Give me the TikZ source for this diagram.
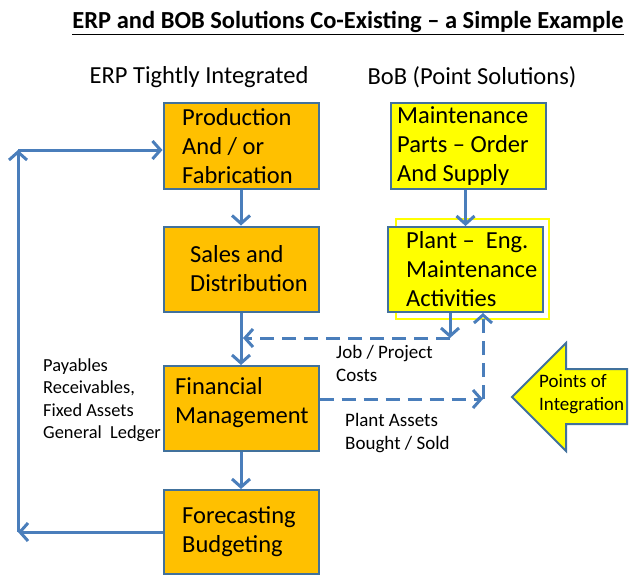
\documentclass[tikz,border=0pt]{standalone}
\usepackage{fontspec}
\setmainfont{Carlito}
\usetikzlibrary{arrows.meta}
\definecolor{lineblue}{HTML}{4A7EBB}
\definecolor{boxedge}{HTML}{41719C}
\definecolor{erporange}{HTML}{FFC000}
\definecolor{bobyellow}{HTML}{FFFF00}
\begin{document}
\begin{tikzpicture}[x=1pt,y=-1pt,
  erpbox/.style={draw=boxedge, line width=2pt, fill=erporange, minimum width=155pt, minimum height=85pt, inner sep=0pt},
  bobbox/.style={draw=boxedge, line width=2pt, fill=bobyellow, minimum width=155pt, minimum height=85pt, inner sep=0pt},
  boxtext/.style={anchor=west, align=left, inner sep=0pt, font=\fontsize{24.5}{29}\selectfont},
  smalltext/.style={anchor=west, align=left, inner sep=0pt, font=\fontsize{18.4}{22.5}\selectfont},
  conn/.style={draw=lineblue, line width=3pt, -{Straight Barb[length=8pt,width=18pt]}},
  dashconn/.style={conn, dash pattern=on 14pt off 8pt},
  plainconn/.style={draw=lineblue, line width=3pt}]
\useasboundingbox (0,0) rectangle (640,576);

% title and headings
\node[inner sep=0pt, font=\fontsize{24.5}{28}\selectfont\bfseries] (title) at (348,23)
  {\underline{ERP and BOB Solutions Co-Existing – a Simple Example}};
\node[inner sep=0pt, font=\fontsize{24.5}{29}\selectfont] (erphead) at (199,77) {ERP Tightly Integrated};
\node[inner sep=0pt, font=\fontsize{24.5}{29}\selectfont] (bobhead) at (472,77) {BoB (Point Solutions)};

% highlight outline around plant box
\draw[bobyellow, line width=1.2pt] (396,219) rectangle (549,319);

% boxes
\node[erpbox, minimum height=86pt] (prod) at (241,146) {};
\node[erpbox] (sales) at (241,269) {};
\node[erpbox] (fin) at (241,408.5) {};
\node[erpbox, minimum height=84pt] (fore) at (241,532) {};
\node[bobbox, minimum height=86pt] (maint) at (468.5,146) {};
\node[bobbox] (plant) at (465.5,269.5) {};

% box texts
\node[boxtext] (prodT) at (182,146) {Production\\And / or\\Fabrication};
\node[boxtext] (salesT) at (190,269) {Sales and\\Distribution};
\node[boxtext] (finT) at (175,403) {Financial\\Management};
\node[boxtext] (foreT) at (182,532) {Forecasting\\Budgeting};
\node[boxtext] (maintT) at (397,146) {Maintenance\\Parts – Order\\And Supply};
\node[boxtext] (plantT) at (406,269) {Plant –\ \ Eng.\\Maintenance\\Activities};

% side labels
\node[smalltext] (ledger) at (43,400) {Payables\\Receivables,\\Fixed Assets\\General\ \ Ledger};
\node[smalltext, font=\fontsize{19}{23}\selectfont] (jobT) at (336,363.5) {Job / Project\\Costs};
\node[smalltext, font=\fontsize{19}{22.5}\selectfont] (assetT) at (345,433) {Plant Assets\\Bought / Sold};

% points of integration arrow
\draw[draw=boxedge, line width=2pt, fill=bobyellow]
  (512,397) -- (566,343) -- (566,369) -- (627,369) -- (627,424) -- (566,424) -- (566,451) -- cycle;
\node[smalltext, font=\fontsize{19}{23}\selectfont] (poiT) at (539,394) {Points of\\Integration};

% ERP flow
\draw[conn] (prod.south) -- (sales.north);
\draw[conn] (sales.south) -- (fin.north);
\draw[conn] (fin.south) -- (fore.north);
\draw[conn] (maint.south -| plant.north) -- (plant.north);

% feedback loop
\coordinate (lc1) at (18,532);
\coordinate (lc2) at (18,150);
\draw[conn] (fore.west) -- (lc1);
\draw[conn] (lc1) -- (lc2);
\draw[conn] (lc2) -- (lc2 -| prod.west);

% points of integration (dashed)
\coordinate (jc1) at (450,338);
\coordinate (jc2) at (483,399);
\draw[conn] (plant.south -| jc1) -- (jc1);
\draw[dashconn, shorten >=2pt] (jc1) -- (jc1 -| sales.south);
\draw[dashconn] (fin.east |- jc2) -- (jc2);
\draw[dashconn] (jc2) -- (jc2 |- plant.south);
\end{tikzpicture}
\end{document}
